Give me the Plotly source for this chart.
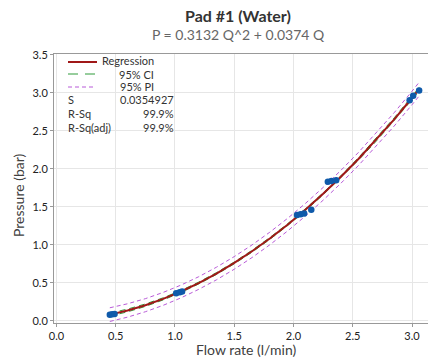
import plotly.graph_objects as go

# ---- data ----
flow = [0.45, 0.47, 0.49, 1.01, 1.04, 1.06, 2.03, 2.06, 2.09, 2.15, 2.29, 2.32, 2.36, 2.98, 3.01, 3.06]
pressure = [0.08, 0.085, 0.09, 0.36, 0.375, 0.385, 1.39, 1.40, 1.41, 1.46, 1.83, 1.84, 1.85, 2.90, 2.96, 3.03]

coef_q2 = 0.3132
coef_q = 0.0374
q_curve = [0.45, 0.6, 0.75, 0.9, 1.05, 1.2, 1.35, 1.5, 1.65, 1.8, 1.95, 2.1, 2.25, 2.4, 2.55, 2.7, 2.85, 3.0, 3.06]
ci_half = [0.02, 0.018, 0.016, 0.014, 0.013, 0.012, 0.012, 0.012, 0.012, 0.012, 0.012, 0.012, 0.013, 0.014, 0.016, 0.018, 0.02, 0.022, 0.024]
pi_half = [0.09, 0.088, 0.086, 0.085, 0.084, 0.083, 0.083, 0.083, 0.083, 0.083, 0.083, 0.083, 0.084, 0.085, 0.086, 0.087, 0.088, 0.089, 0.09]

x_ticks = [0.0, 0.5, 1.0, 1.5, 2.0, 2.5, 3.0]
y_ticks = [0.0, 0.5, 1.0, 1.5, 2.0, 2.5, 3.0, 3.5]

stats_labels = ["S", "R-Sq", "R-Sq(adj)"]
stats_values = ["0.0354927", "99.9%", "99.9%"]

# ---- derived ----
p_fit = [coef_q2 * q * q + coef_q * q for q in q_curve]
ci_up = [p + h for p, h in zip(p_fit, ci_half)]
ci_lo = [p - h for p, h in zip(p_fit, ci_half)]
pi_up = [p + h for p, h in zip(p_fit, pi_half)]
pi_lo = [p - h for p, h in zip(p_fit, pi_half)]

RED = "#A01818"
GREEN = "#2E9B3A"
PURPLE = "#B85AD8"
BLUE = "#0F5AAA"
FONT = "Lato"

fig = go.Figure()
for yy in (pi_up, pi_lo):
    fig.add_trace(go.Scatter(x=q_curve, y=yy, mode="lines",
                             line=dict(color=PURPLE, width=1, dash="4px,3px"),
                             hoverinfo="skip", showlegend=False))
for yy in (ci_up, ci_lo):
    fig.add_trace(go.Scatter(x=q_curve, y=yy, mode="lines",
                             line=dict(color=GREEN, width=1, dash="6px,4px"),
                             hoverinfo="skip", showlegend=False))
fig.add_trace(go.Scatter(x=q_curve, y=p_fit, mode="lines",
                         line=dict(color=RED, width=2), showlegend=False))
fig.add_trace(go.Scatter(x=flow, y=pressure, mode="markers",
                         marker=dict(color=BLUE, size=6.5), showlegend=False))

L, R, T, B = 54, 0, 54, 39
W, H = 428, 362
pw, ph = W - L - R, H - T - B


def px(xp):
    return (xp - L) / pw


def py(yp):
    return (H - B - yp) / ph


ann = []
ann.append(dict(text="<b>Pad #1 (Water)</b>", x=px(238), y=py(15), xref="paper", yref="paper",
                showarrow=False, xanchor="center", yanchor="middle",
                font=dict(family=FONT, size=16, color="#333333")))
ann.append(dict(text="P = 0.3132 Q^2 + 0.0374 Q", x=px(238), y=py(34), xref="paper", yref="paper",
                showarrow=False, xanchor="center", yanchor="middle",
                font=dict(family=FONT, size=14, color="#666666")))
ann.append(dict(text="Flow rate (l/min)", x=px(246), y=py(349), xref="paper", yref="paper",
                showarrow=False, xanchor="center", yanchor="middle",
                font=dict(family=FONT, size=14, color="#404040")))
ann.append(dict(text="Pressure (bar)", x=px(18), y=py(195), xref="paper", yref="paper",
                showarrow=False, xanchor="center", yanchor="middle", textangle=-90,
                font=dict(family=FONT, size=14, color="#404040")))

leg_font = dict(family=FONT, size=11, color="#333333")
for label, ypix in (("Regression", 61), ("95% CI", 74), ("95% PI", 87)):
    ann.append(dict(text=label, x=px(156), y=py(ypix), xref="paper", yref="paper",
                    showarrow=False, xanchor="right", yanchor="middle", font=leg_font))
for i, (lab, val) in enumerate(zip(stats_labels, stats_values)):
    ypix = 99 + 14 * i
    ann.append(dict(text=lab, x=px(66), y=py(ypix), xref="paper", yref="paper",
                    showarrow=False, xanchor="left", yanchor="middle", font=leg_font))
    ann.append(dict(text=val, x=px(176), y=py(ypix), xref="paper", yref="paper",
                    showarrow=False, xanchor="right", yanchor="middle", font=leg_font))

shapes = [
    dict(type="line", xref="paper", yref="paper", x0=px(68), x1=px(97), y0=py(62), y1=py(62),
         line=dict(color=RED, width=2)),
    dict(type="line", xref="paper", yref="paper", x0=px(68), x1=px(96), y0=py(74), y1=py(74),
         line=dict(color=GREEN, width=1, dash="10px,7px")),
    dict(type="line", xref="paper", yref="paper", x0=px(68), x1=px(96), y0=py(87), y1=py(87),
         line=dict(color=PURPLE, width=1, dash="4px,3px")),
]

axis_common = dict(showgrid=True, gridcolor="#E6E6E6", gridwidth=1,
                   showline=True, linecolor="#999999", linewidth=1, mirror=True,
                   ticks="outside", ticklen=3, tickcolor="#999999",
                   tickformat=".1f", zeroline=False,
                   tickfont=dict(family=FONT, size=11, color="#222222"))

fig.update_layout(
    width=W, height=H,
    margin=dict(l=L, r=R, t=T, b=B, pad=0),
    paper_bgcolor="white", plot_bgcolor="white",
    xaxis=dict(range=[-0.021, 3.135], tickvals=x_ticks, **axis_common),
    yaxis=dict(range=[-0.03, 3.51], tickvals=y_ticks, **axis_common),
    annotations=ann, shapes=shapes, showlegend=False,
)

fig.write_html("out.html")
